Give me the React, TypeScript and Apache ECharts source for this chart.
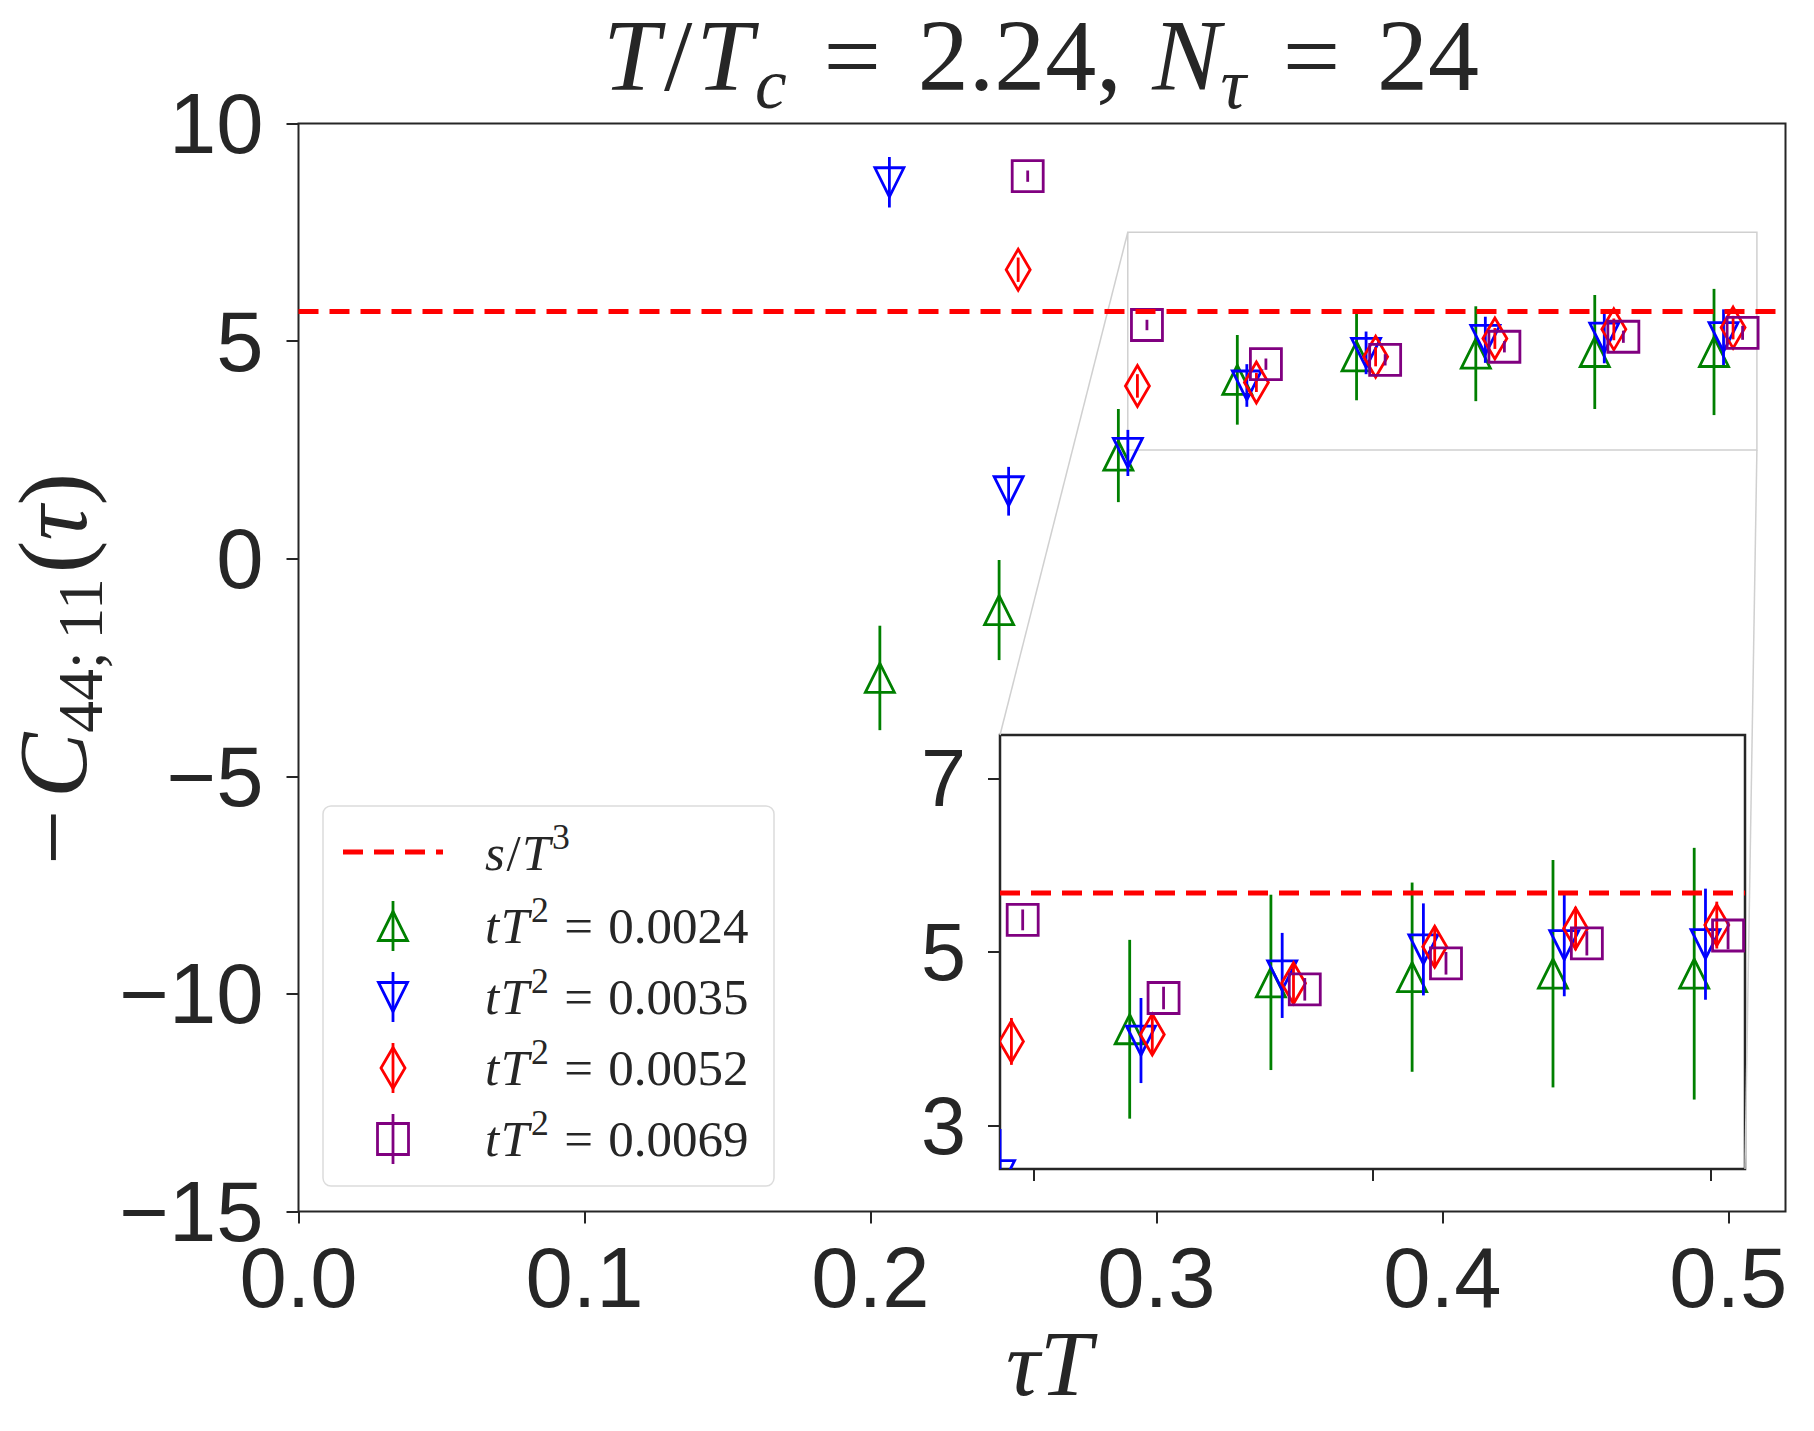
import React, { useEffect, useRef } from "react";
import * as echarts from "echarts";

// ---------------- data ----------------
const tauT = [0.2083, 0.25, 0.2917, 0.3333, 0.375, 0.4167, 0.4583, 0.5];
const tauTLate = [0.25, 0.2917, 0.3333, 0.375, 0.4167, 0.4583, 0.5];

const greenC = [-2.74, -1.18, 2.37, 4.11, 4.65, 4.71, 4.75, 4.75];
const greenErr = [1.2, 1.15, 1.07, 1.03, 1.01, 1.09, 1.31, 1.45];
const blueC = [8.65, 1.55, 2.43, 3.98, 4.73, 5.03, 5.08, 5.09];
const blueErr = [0.58, 0.56, 0.53, 0.49, 0.49, 0.53, 0.59, 0.64];
const redC = [6.64, 3.97, 4.05, 4.64, 5.06, 5.27, 5.31];
const redErr = [0.28, 0.27, 0.22, 0.22, 0.24, 0.25, 0.27];
const purpleC = [8.79, 5.37, 4.47, 4.57, 4.87, 5.1, 5.19];
const purpleErr = [0.13, 0.12, 0.13, 0.13, 0.13, 0.14, 0.16];

const flowLabels = ["0.0024", "0.0035", "0.0052", "0.0069"];
const seriesColors = ["#008000", "#0000ff", "#ff0000", "#800080"];
const seriesShapes = ["up", "down", "diamond", "square"];
const xShift = [-0.005, -0.00167, 0.00167, 0.005];
const sOverT3 = 5.68;

const mainXTicks = [0, 0.1, 0.2, 0.3, 0.4, 0.5];
const insetXTicks = [0.3, 0.4, 0.5];
const insetYTicks = [3, 5, 7];
const insetXRange = [0.29, 0.51];
const insetYRange = [2.5, 7.5];

// ---------------- helpers ----------------
const INK = "#262626";
const SANS = '"Liberation Sans", Arial, sans-serif';
const MATH = '"Liberation Serif", "DejaVu Serif", serif';
const CENTRAL = 0.3376;
const LW = 2.8;

let mctx: CanvasRenderingContext2D | null = null;
function textWidth(t: string, fs: number, it: boolean) {
  if (!mctx) mctx = document.createElement("canvas").getContext("2d");
  mctx!.font = `${it ? "italic " : ""}${fs}px ${MATH}`;
  return mctx!.measureText(t).width;
}

type Tok = { t?: string; it?: boolean; s?: number; dy?: number; gap?: number };
function mathRun(toks: Tok[], fs: number, color: string, z = 10) {
  let x = 0;
  const children: any[] = [];
  for (const k of toks) {
    if (k.gap !== undefined) {
      x += k.gap * fs;
      continue;
    }
    const size = fs * (k.s ?? 1);
    const w = textWidth(k.t!, size, !!k.it);
    children.push({
      type: "text",
      z,
      x,
      y: (k.dy ?? 0) * fs - CENTRAL * size,
      silent: true,
      style: {
        text: k.t,
        fontSize: size,
        fontFamily: MATH,
        fontStyle: k.it ? "italic" : "normal",
        fill: color,
        align: "left",
        verticalAlign: "middle",
      },
    });
    x += w;
  }
  return { children, width: x };
}

function marker(shape: string, cx: number, cy: number, color: string, z?: number) {
  const style: any = { stroke: color, fill: "none", lineWidth: LW, lineJoin: "miter" };
  const h = 14.5;
  const extra: any = z !== undefined ? { z } : {};
  if (shape === "up")
    return { type: "polygon", ...extra, shape: { points: [[cx, cy - h], [cx - h, cy + h], [cx + h, cy + h]] }, style };
  if (shape === "down")
    return { type: "polygon", ...extra, shape: { points: [[cx, cy + h], [cx - h, cy - h], [cx + h, cy - h]] }, style };
  if (shape === "diamond")
    return {
      type: "polygon",
      ...extra,
      shape: { points: [[cx, cy - 20.5], [cx + 12, cy], [cx, cy + 20.5], [cx - 12, cy]] },
      style,
    };
  return { type: "rect", ...extra, shape: { x: cx - 15.5, y: cy - 15.5, width: 31, height: 31 }, style };
}

function makeRender(shape: string, color: string) {
  return (params: any, api: any) => {
    const x = api.value(0);
    const y = api.value(1);
    const e = api.value(2);
    const p = api.coord([x, y]);
    const pt = api.coord([x, y + e]);
    const pb = api.coord([x, y - e]);
    return {
      type: "group",
      children: [
        {
          type: "line",
          shape: { x1: p[0], y1: pt[1], x2: p[0], y2: pb[1] },
          style: { stroke: color, lineWidth: LW },
        },
        marker(shape, p[0], p[1], color),
      ],
    };
  };
}

const groups = [
  { x: tauT, c: greenC, e: greenErr },
  { x: tauT, c: blueC, e: blueErr },
  { x: tauTLate, c: redC, e: redErr },
  { x: tauTLate, c: purpleC, e: purpleErr },
];

function buildSeries() {
  const series: any[] = [];
  for (const gi of [0, 1]) {
    const xr = gi === 0 ? [0, 0.52] : insetXRange;
    series.push({
      type: "line",
      xAxisIndex: gi,
      yAxisIndex: gi,
      data: [
        [xr[0], sOverT3],
        [xr[1], sOverT3],
      ],
      symbol: "none",
      silent: true,
      z: 3,
      lineStyle: { color: "#ff0000", width: 5, type: [20, 11] },
    });
    groups.forEach((g, i) => {
      series.push({
        type: "custom",
        xAxisIndex: gi,
        yAxisIndex: gi,
        clip: gi === 1,
        silent: true,
        z: 2,
        encode: { x: 0, y: 1 },
        data: g.x.map((t, k) => [t + xShift[i], g.c[k], g.e[k]]),
        renderItem: makeRender(seriesShapes[i], seriesColors[i]),
      });
    });
  }
  return series;
}

const tickStyle = { color: INK, width: 2 };

export default function App() {
  const ref = useRef<HTMLDivElement>(null);
  useEffect(() => {
    if (!ref.current) return;
    const chart = echarts.init(ref.current, null, { renderer: "svg" });
    chart.setOption({
      animation: false,
      backgroundColor: "#ffffff",
      grid: [
        { left: 298.5, top: 123.5, width: 1487, height: 1088, show: true, borderColor: INK, borderWidth: 2, backgroundColor: "transparent" },
        { left: 1000, top: 735, width: 745, height: 434, show: true, borderColor: INK, borderWidth: 2.5, backgroundColor: "#ffffff" },
      ],
      xAxis: [
        {
          gridIndex: 0,
          type: "value",
          min: 0,
          max: 0.52,
          axisLine: { show: false, onZero: false },
          splitLine: { show: false },
          axisTick: { show: true, inside: false, length: 12, lineStyle: tickStyle, customValues: mainXTicks },
          axisLabel: {
            customValues: mainXTicks,
            formatter: (v: number) => v.toFixed(1),
            margin: 23,
            fontSize: 85,
            fontFamily: SANS,
            color: INK,
          },
        },
        {
          gridIndex: 1,
          type: "value",
          min: insetXRange[0],
          max: insetXRange[1],
          axisLine: { show: false, onZero: false },
          splitLine: { show: false },
          axisTick: { show: true, inside: false, length: 12, lineStyle: tickStyle, customValues: insetXTicks },
          axisLabel: { show: false },
        },
      ],
      yAxis: [
        {
          gridIndex: 0,
          type: "value",
          min: -15,
          max: 10,
          interval: 5,
          axisLine: { show: false, onZero: false },
          splitLine: { show: false },
          axisTick: { show: true, inside: false, length: 12, lineStyle: tickStyle },
          axisLabel: {
            formatter: (v: number) => (v < 0 ? "\u2212" + Math.abs(v) : String(v)),
            margin: 35,
            fontSize: 85,
            fontFamily: SANS,
            color: INK,
          },
        },
        {
          gridIndex: 1,
          type: "value",
          min: insetYRange[0],
          max: insetYRange[1],
          axisLine: { show: false, onZero: false },
          splitLine: { show: false },
          axisTick: { show: true, inside: false, length: 12, lineStyle: tickStyle, customValues: insetYTicks },
          axisLabel: { customValues: insetYTicks, margin: 34, fontSize: 81, fontFamily: SANS, color: INK },
        },
      ],
      series: buildSeries(),
    });

    // inset indicator and connectors, from the axes' own scales
    const a = chart.convertToPixel({ gridIndex: 0 } as any, [insetXRange[0], insetYRange[1]]) as number[];
    const b = chart.convertToPixel({ gridIndex: 0 } as any, [insetXRange[1], insetYRange[0]]) as number[];
    const c = chart.convertToPixel({ gridIndex: 1 } as any, [insetXRange[0], insetYRange[1]]) as number[];
    const d = chart.convertToPixel({ gridIndex: 1 } as any, [insetXRange[1], insetYRange[0]]) as number[];
    const grey = { stroke: "#d0d0d0", lineWidth: 1.5, fill: "none" };

    const graphics: any[] = [
      { type: "rect", z: 1, silent: true, shape: { x: a[0], y: a[1], width: b[0] - a[0], height: b[1] - a[1] }, style: grey },
      { type: "line", z: 1, silent: true, shape: { x1: a[0], y1: a[1], x2: c[0], y2: c[1] }, style: grey },
      { type: "line", z: 1, silent: true, shape: { x1: b[0], y1: b[1], x2: d[0], y2: d[1] }, style: grey },
    ];

    // title
    const title = mathRun(
      [
        { t: "T", it: true },
        { gap: 0.04 },
        { t: "/" },
        { gap: 0.04 },
        { t: "T", it: true },
        { gap: 0.02 },
        { t: "c", it: true, s: 0.7, dy: 0.17 },
        { gap: 0.36 },
        { t: "=" },
        { gap: 0.36 },
        { t: "2.24," },
        { gap: 0.3 },
        { t: "N", it: true },
        { t: "\u03c4", it: true, s: 0.7, dy: 0.17 },
        { gap: 0.36 },
        { t: "=" },
        { gap: 0.36 },
        { t: "24" },
      ],
      102,
      INK
    );
    graphics.push({ type: "group", x: 1041 - title.width / 2, y: 90, children: title.children });

    // x label
    const xl = mathRun([{ t: "\u03c4", it: true }, { t: "T", it: true }], 94, INK);
    graphics.push({ type: "group", x: 1049 - xl.width / 2, y: 1395, children: xl.children });

    // y label
    const yl = mathRun(
      [
        { t: "\u2212" },
        { gap: 0.12 },
        { t: "C", it: true },
        { t: "44", s: 0.65, dy: 0.16 },
        { t: ";", s: 0.65, dy: 0.16 },
        { gap: 0.12 },
        { t: "11", s: 0.65, dy: 0.16 },
        { gap: 0.05 },
        { t: "(" },
        { t: "\u03c4", it: true },
        { t: ")" },
      ],
      98,
      INK
    );
    graphics.push({ type: "group", x: 86, y: 669 + yl.width / 2, rotation: Math.PI / 2, children: yl.children });

    // legend
    graphics.push({
      type: "rect",
      z: 5,
      silent: true,
      shape: { x: 323, y: 806, width: 451, height: 380, r: 8 },
      style: { fill: "rgba(255,255,255,0.8)", stroke: "#dcdcdc", lineWidth: 1.5 },
    });
    graphics.push({
      type: "line",
      z: 10,
      silent: true,
      shape: { x1: 343, y1: 852, x2: 443, y2: 852 },
      style: { stroke: "#ff0000", lineWidth: 5, lineDash: [20, 11] },
    });
    const LFS = 51;
    const sl = mathRun(
      [{ t: "s", it: true }, { gap: 0.03 }, { t: "/" }, { gap: 0.03 }, { t: "T", it: true }, { gap: 0.03 }, { t: "3", s: 0.7, dy: -0.42 }],
      LFS,
      INK
    );
    graphics.push({ type: "group", x: 485, y: 870, children: sl.children });
    flowLabels.forEach((lab, i) => {
      const cy = 926 + i * 71;
      graphics.push({
        type: "line",
        z: 10,
        silent: true,
        shape: { x1: 393, y1: cy - 25, x2: 393, y2: cy + 25 },
        style: { stroke: seriesColors[i], lineWidth: LW },
      });
      graphics.push({ ...marker(seriesShapes[i], 393, cy, seriesColors[i], 10), silent: true });
      const run = mathRun(
        [
          { t: "t", it: true },
          { gap: 0.03 },
          { t: "T", it: true },
          { gap: 0.04 },
          { t: "2", s: 0.7, dy: -0.42 },
          { gap: 0.3 },
          { t: "=" },
          { gap: 0.3 },
          { t: lab },
        ],
        LFS,
        INK
      );
      graphics.push({ type: "group", x: 485, y: cy + 17, children: run.children });
    });

    chart.setOption({ graphic: graphics });

    return () => chart.dispose();
  }, []);

  return (
    <div
      ref={ref}
      style={{ position: "absolute", left: 0, top: 0, width: 1814, height: 1431, background: "#fff" }}
    />
  );
}
